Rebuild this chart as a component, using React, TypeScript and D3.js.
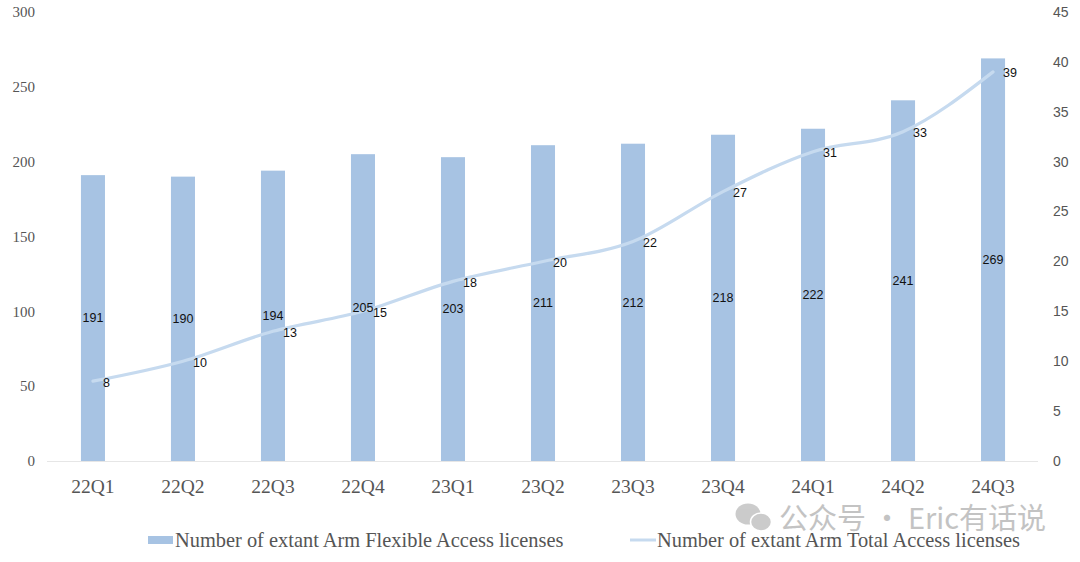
import React from 'react';
import * as d3 from 'd3';

const quarters = ['22Q1', '22Q2', '22Q3', '22Q4', '23Q1', '23Q2', '23Q3', '23Q4', '24Q1', '24Q2', '24Q3'];
const flexibleLicenses = [191, 190, 194, 205, 203, 211, 212, 218, 222, 241, 269];
const totalLicenses = [8, 10, 13, 15, 18, 20, 22, 27, 31, 33, 39];
const leftTicks = [0, 50, 100, 150, 200, 250, 300];
const rightTicks = [0, 5, 10, 15, 20, 25, 30, 35, 40, 45];

const W = 1080;
const H = 562;

const App = () => {
  const x = d3.scaleBand().domain(quarters).range([48, 1038]).paddingInner(0.733).paddingOuter(0.366);
  const yL = d3.scaleLinear().domain([0, 300]).range([461, 12]);
  const yR = d3.scaleLinear().domain([0, 45]).range([461, 12]);
  const cx = (q: string) => (x(q) as number) + x.bandwidth() / 2;

  const line = d3
    .line<number>()
    .x((_, i) => cx(quarters[i]))
    .y(d => yR(d))
    .curve(d3.curveMonotoneX);

  const serif = '"Liberation Serif", "Times New Roman", serif';
  const sans = '"Liberation Sans", Arial, sans-serif';

  return (
    <svg width={W} height={H} style={{ position: 'absolute', left: 0, top: 0 }}>
      <rect width={W} height={H} fill="#fff" />
      {/* bars */}
      {quarters.map((q, i) => (
        <rect
          key={q}
          x={x(q)}
          y={yL(flexibleLicenses[i])}
          width={x.bandwidth()}
          height={yL(0) - yL(flexibleLicenses[i])}
          fill="#a7c3e3"
        />
      ))}
      {/* baseline */}
      <line x1={47} x2={1038} y1={461.5} y2={461.5} stroke="#e6e6e6" strokeWidth={1} />
      {/* line */}
      <path d={line(totalLicenses) || ''} fill="none" stroke="#c6daef" strokeWidth={3.2} strokeLinecap="round" />
      {/* bar labels */}
      {quarters.map((q, i) => (
        <text
          key={'b' + q}
          x={cx(q)}
          y={(yL(flexibleLicenses[i]) + yL(0)) / 2}
          dy="0.35em"
          textAnchor="middle"
          fontFamily={sans}
          fontSize={12.5}
          fill="#111"
        >
          {flexibleLicenses[i]}
        </text>
      ))}
      {/* line labels */}
      {quarters.map((q, i) => (
        <text
          key={'l' + q}
          x={cx(q) + 10}
          y={yR(totalLicenses[i]) + 1}
          dy="0.35em"
          fontFamily={sans}
          fontSize={12.5}
          fill="#111"
        >
          {totalLicenses[i]}
        </text>
      ))}
      {/* left axis */}
      {leftTicks.map(t => (
        <text key={'yl' + t} x={35} y={yL(t)} dy="0.35em" textAnchor="end" fontFamily={serif} fontSize={15} fill="#555">
          {t}
        </text>
      ))}
      {/* right axis */}
      {rightTicks.map(t => (
        <text key={'yr' + t} x={1053} y={yR(t)} dy="0.35em" textAnchor="start" fontFamily={sans} fontSize={14} fill="#555">
          {t}
        </text>
      ))}
      {/* x axis */}
      {quarters.map(q => (
        <text key={'x' + q} x={cx(q)} y={493} textAnchor="middle" fontFamily={serif} fontSize={19.5} fill="#555">
          {q}
        </text>
      ))}
      {/* watermark */}
      <g opacity={0.5}>
        <ellipse cx={748} cy={514} rx={12.5} ry={10.5} fill="#999" />
        <ellipse cx={761} cy={522} rx={10.5} ry={9} fill="#999" stroke="#fff" strokeWidth={1.5} />
        <text x={779} y={529} fontFamily='"Noto Sans CJK SC", sans-serif' fontSize={29} fill="#888">
          公众号 · Eric有话说
        </text>
      </g>
      {/* legend */}
      <rect x={148} y={536} width={25} height={8} fill="#a7c3e3" />
      <text x={175} y={547} fontFamily={serif} fontSize={20.4} fill="#555">
        Number of extant Arm Flexible Access licenses
      </text>
      <line x1={630} x2={656} y1={540} y2={540} stroke="#c6daef" strokeWidth={3} />
      <text x={657} y={547} fontFamily={serif} fontSize={20.4} fill="#555">
        Number of extant Arm Total Access licenses
      </text>
    </svg>
  );
};

export default App;
